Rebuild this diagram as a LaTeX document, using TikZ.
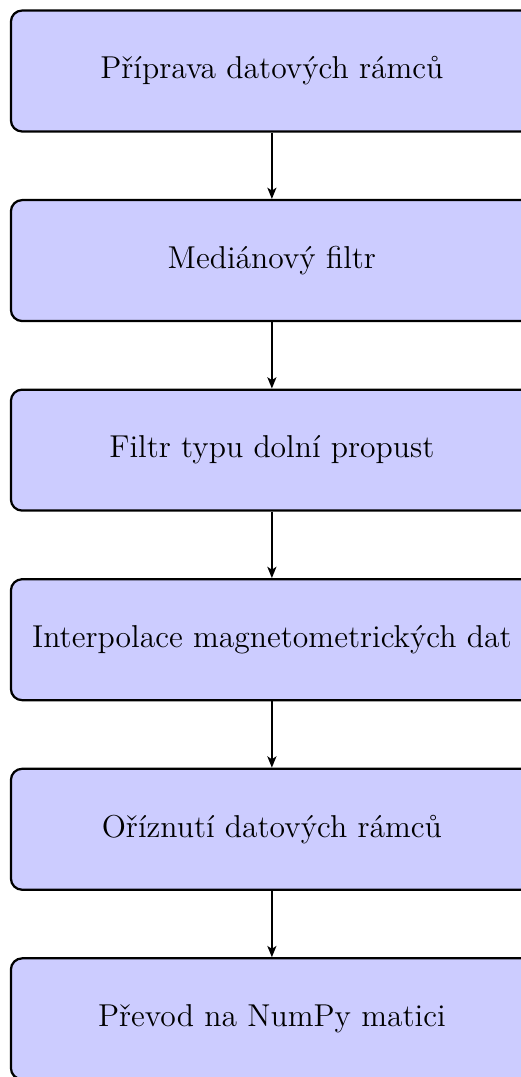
\documentclass[tikz,border=0pt]{standalone}
\usepackage{fontspec}
\usepackage{tikz}
\usetikzlibrary{positioning, arrows.meta}

\begin{document}
\begin{tikzpicture}[
    krok/.style={draw, thick, rounded corners, fill=blue!20, minimum width=186.4pt, minimum height=43.2pt, align=center, font=\fontsize{11.3}{13.8}\selectfont},
    sipka/.style={-{Stealth[length=4pt, width=3.2pt, inset=1pt]}, thick},
    node distance=23.7pt
  ]
  \useasboundingbox (0,0) rectangle (186.07pt,-384.64pt);
  % kroky zpracovani
  \node[krok] (priprava) at (97.1pt,-25.36pt) {Příprava datových rámců};
  \node[krok, below=of priprava] (median) {Mediánový filtr};
  \node[krok, below=of median] (dolni) {Filtr typu dolní propust};
  \node[krok, below=of dolni] (interp) {Interpolace magnetometrických dat};
  \node[krok, below=of interp] (orez) {Oříznutí datových rámců};
  \node[krok, below=of orez] (prevod) {Převod na NumPy matici};
  % sipky
  \draw[sipka] (priprava) -- (median);
  \draw[sipka] (median) -- (dolni);
  \draw[sipka] (dolni) -- (interp);
  \draw[sipka] (interp) -- (orez);
  \draw[sipka] (orez) -- (prevod);
\end{tikzpicture}
\end{document}
